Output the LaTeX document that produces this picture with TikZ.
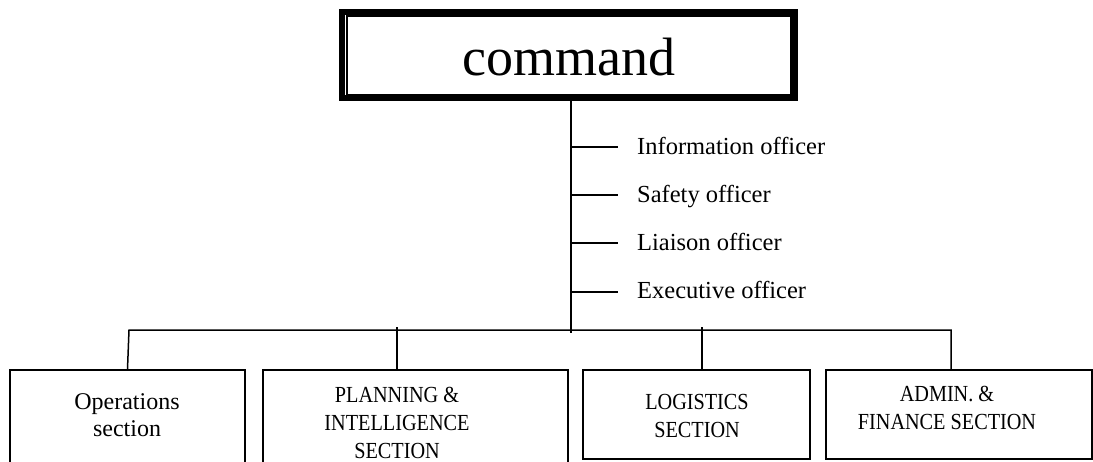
\documentclass[tikz,border=0pt]{standalone}
\usepackage{fontspec}
\setmainfont{Liberation Serif}
\newfontfamily\condserif[FakeStretch=0.88]{Liberation Serif}
\begin{document}
\begin{tikzpicture}[x=1pt,y=-1pt,
  conn/.style={line width=1.5pt},
  secbox/.style={draw, line width=2pt, inner sep=0pt},
  offtext/.style={anchor=base west, inner sep=0pt, font=\fontsize{24.5}{28}\selectfont},
  captext/.style={align=center, inner sep=0pt, font=\condserif\fontsize{23}{28}\selectfont},
  lowtext/.style={align=center, inner sep=0pt, font=\fontsize{24}{27}\selectfont}]
\useasboundingbox (0,0) rectangle (1093,461);
\clip (0,0) rectangle (1093,461);
% command box
\node[draw, line width=6pt, minimum width=453pt, minimum height=86pt, inner sep=0pt] (cmd) at (568.5,55) {};
\draw[line width=1.5pt] ([shift={(8,7)}]cmd.north west) rectangle ([shift={(-7,-6)}]cmd.south east);
\node[anchor=base, inner sep=0pt, font=\fontsize{54}{60}\selectfont] (cmdt) at (568.5,75) {command};
% officers
\coordinate (bus) at (571,330);
\draw[conn] (cmd.south -| bus) -- ([shift={(0,3)}]bus);
\node[offtext] (o1) at (637,154) {Information officer};
\node[offtext] (o2) at (637,202) {Safety officer};
\node[offtext] (o3) at (637,250) {Liaison officer};
\node[offtext] (o4) at (637,298) {Executive officer};
\coordinate (s1) at (571,147);
\coordinate (s2) at (571,195);
\coordinate (s3) at (571,243);
\coordinate (s4) at (571,292);
\foreach \i in {1,2,3,4} \draw[conn] (s\i) -- ++(47,0);
% section boxes
\node[secbox, minimum width=235pt, minimum height=110pt] (b1) at (127.5,425) {};
\node[secbox, minimum width=305pt, minimum height=110pt] (b2) at (415.5,425) {};
\node[secbox, minimum width=227pt, minimum height=89pt] (b3) at (696.5,414.5) {};
\node[secbox, minimum width=266pt, minimum height=89pt] (b4) at (958.5,414.5) {};
\node[lowtext] (t1) at (127,415.5) {Operations\\section};
\node[captext] (t2) at (397,423) {PLANNING \&\\INTELLIGENCE\\SECTION};
\node[captext] (t3) at (697,416) {LOGISTICS\\SECTION};
\node[captext] (t4) at (947,408) {ADMIN. \&\\FINANCE SECTION};
% bus connectors
\coordinate (c1) at (129,330);
\coordinate (c2) at (397,327);
\coordinate (c3) at (702,327);
\coordinate (c4) at (951,330);
\draw[conn] (b1.north) -- (c1) -- (c4) -- (c4 |- b4.north);
\draw[conn] (c2) -- (c2 |- b2.north);
\draw[conn] (c3) -- (c3 |- b3.north);
\end{tikzpicture}
\end{document}
